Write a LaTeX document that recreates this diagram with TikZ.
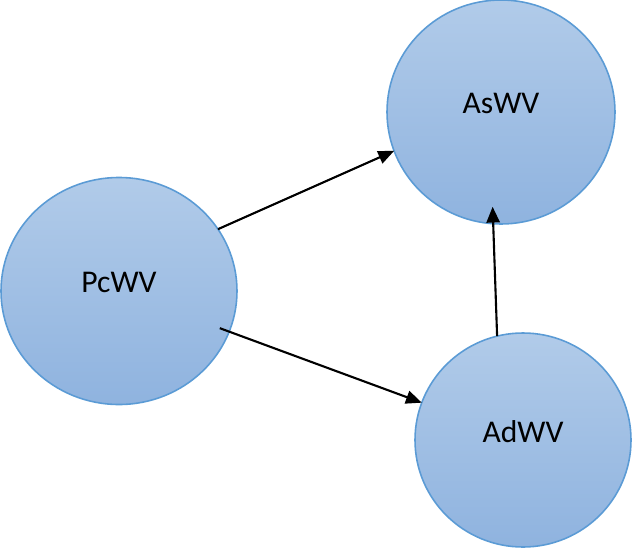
\documentclass[tikz,border=0pt]{standalone}
\usepackage{fontspec}
\setmainfont{Carlito}
\usetikzlibrary{arrows.meta,shapes.geometric}
\definecolor{rimblue}{HTML}{5B9BD5}
\definecolor{topblue}{HTML}{B1CBE9}
\definecolor{lowblue}{HTML}{8FB3DF}

\begin{document}
\begin{tikzpicture}[x=0.02cm,y=-0.02cm,
  var/.style={shape=ellipse,draw=rimblue,line width=0.9pt,top color=topblue,bottom color=lowblue,
    inner sep=0pt,outer sep=0pt,font=\fontsize{18}{20}\selectfont,text depth=10pt},
  arr/.style={-{Triangle[length=9pt,width=7.5pt]},line width=1.2pt}]
\useasboundingbox (0,0) rectangle (632,548);
% the three variables
\node[var,minimum width=236*0.02cm,minimum height=227*0.02cm] (pc) at (119,291) {PcWV};
\node[var,minimum width=228*0.02cm,minimum height=224*0.02cm] (as) at (501,112) {AsWV};
\node[var,minimum width=216*0.02cm,minimum height=214*0.02cm] (ad) at (523,440) {AdWV};
% paths
\draw[arr] (pc.32) -- (as.200);
\draw[arr,shorten <=-0.2cm] (pc) -- (ad);
\draw[arr,shorten >=-0.34cm] (ad.104) -- (as.266);
\end{tikzpicture}
\end{document}
